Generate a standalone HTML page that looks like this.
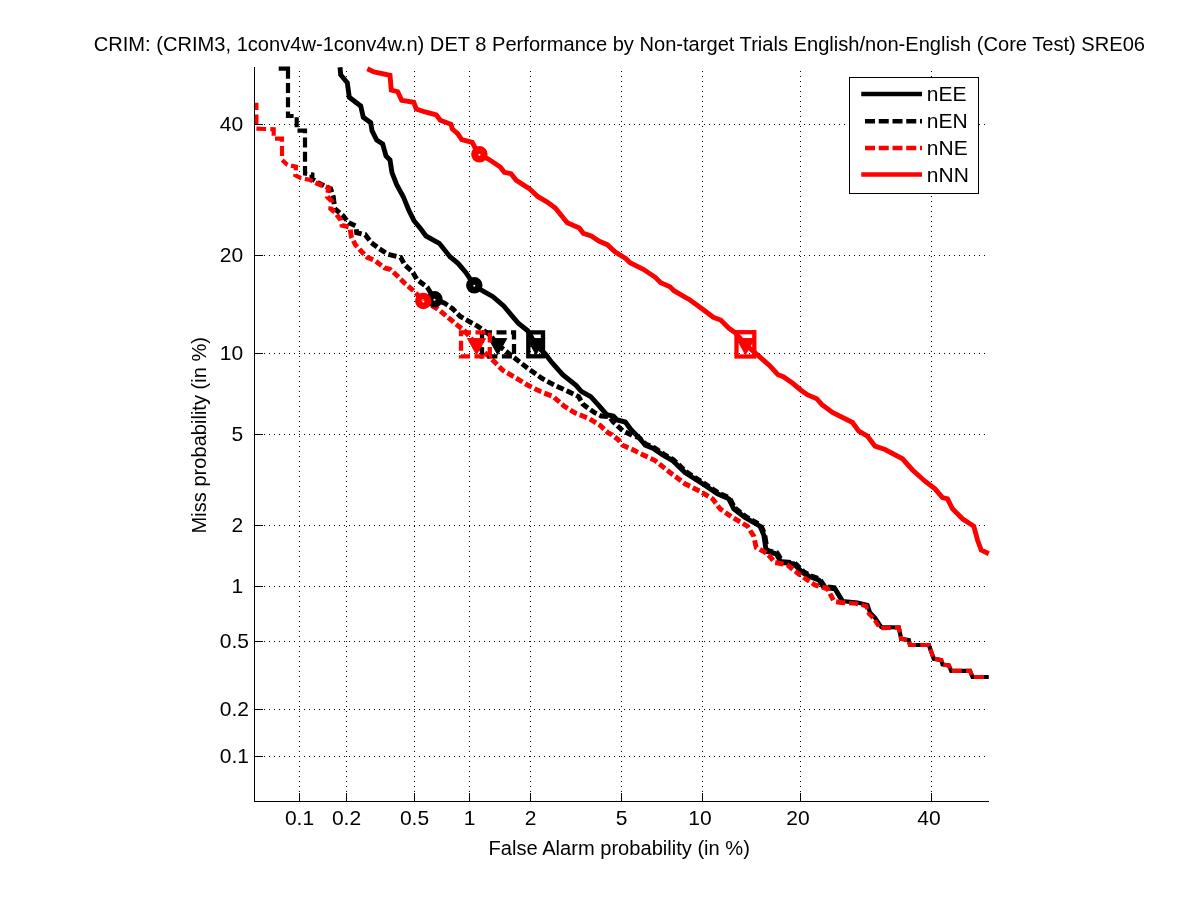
<!DOCTYPE html>
<html><head><meta charset="utf-8"><title>DET plot</title>
<style>
html,body{margin:0;padding:0;background:#fff;}
body{width:1201px;height:900px;overflow:hidden;}
svg{display:block;}
text{font-family:"Liberation Sans",Arial,Helvetica,sans-serif;font-size:20.1px;fill:#000;}
.t{font-size:21px;}
.g{stroke:#000;stroke-width:1;stroke-dasharray:1 4;fill:none;shape-rendering:crispEdges;}
.ax{stroke:#000;stroke-width:1;fill:none;shape-rendering:crispEdges;}
.c{fill:none;stroke-width:4.9;stroke-linejoin:miter;stroke-linecap:butt;}
.n{stroke-width:4.2;}
.k{stroke:#000;} .r{stroke:#f00;}
.d{stroke-dasharray:10 4.5;}
</style></head><body>
<svg width="1201" height="900" viewBox="0 0 1201 900">
<rect x="0" y="0" width="1201" height="900" fill="#fff"/>

<g class="g">
<line x1="299.5" y1="802" x2="299.5" y2="68"/>
<line x1="254" y1="756.5" x2="988" y2="756.5"/>
<line x1="346.5" y1="802" x2="346.5" y2="68"/>
<line x1="254" y1="709.5" x2="988" y2="709.5"/>
<line x1="414.5" y1="802" x2="414.5" y2="68"/>
<line x1="254" y1="641.5" x2="988" y2="641.5"/>
<line x1="469.5" y1="802" x2="469.5" y2="68"/>
<line x1="254" y1="586.5" x2="988" y2="586.5"/>
<line x1="530.5" y1="802" x2="530.5" y2="68"/>
<line x1="254" y1="525.5" x2="988" y2="525.5"/>
<line x1="621.5" y1="802" x2="621.5" y2="68"/>
<line x1="254" y1="434.5" x2="988" y2="434.5"/>
<line x1="702.5" y1="802" x2="702.5" y2="68"/>
<line x1="254" y1="353.5" x2="988" y2="353.5"/>
<line x1="800.5" y1="802" x2="800.5" y2="68"/>
<line x1="254" y1="255.5" x2="988" y2="255.5"/>
<line x1="931.5" y1="802" x2="931.5" y2="68"/>
<line x1="254" y1="124.5" x2="988" y2="124.5"/>
</g>
<polyline class="c k" points="340.0,67.3 340.7,74.7 347.3,82.7 349.3,97.3 360.7,106.0 363.3,117.3 370.7,122.7 372.0,130.7 376.7,140.0 382.7,144.0 386.0,156.0 390.0,160.0 392.0,172.7 396.7,184.7 403.3,196.7 408.7,210.0 414.0,220.7 420.7,228.7 426.0,236.0 439.3,243.3 450.0,256.7 458.0,263.3 466.0,272.7 474.3,285.3 482.3,290.7 493.0,296.7 503.7,306.0 518.3,323.3 527.7,330.7 536.0,345.0 545.3,354.0 552.0,362.7 562.7,374.7 576.0,385.3 581.3,391.3 590.7,396.7 598.7,405.3 606.7,414.7 613.3,416.0 617.3,420.0 625.3,422.0 630.7,429.3 638.7,437.3 645.3,445.3 653.3,448.5 662.7,455.0 672.5,460.5 685.0,472.5 702.5,483.8 717.5,493.8 728.8,498.8 733.8,508.8 745.0,517.5 760.0,526.2 763.8,535.0 766.2,551.2 776.2,553.8 781.2,562.5 793.8,563.8 802.5,572.5 808.8,576.2 818.8,580.0 823.8,587.5 835.0,588.8 842.5,601.2"/>
<polyline class="c k n" points="835.0,588.8 842.5,601.2 857.5,602.5 867.5,605.0 870.0,612.5 875.0,617.5 881.2,627.0 898.8,627.5 901.2,638.8 908.8,640.0 910.0,645.0 928.8,645.0 933.8,658.8 941.2,660.0 942.5,664.5 948.8,665.5 951.2,670.8 970.0,670.8 972.5,677.0 988.8,677.0"/>
<path class="c k n" d="M278.7,68.7 L290.1,68.7 M288.0,68.7 L288.0,78.7 M288.0,83.0 L288.0,93.0 M288.0,97.3 L288.0,107.3 M288.0,111.6 L288.0,116.0 L293.6,116.0 M296.7,117.2 L296.7,127.2 M297.5,130.7 L305.0,130.7 L305.0,133.2 M305.0,137.5 L305.0,147.5 M305.0,151.8 L305.0,161.8 M305.0,166.1 L305.0,173.5 L307.2,173.9"/>
<path class="c k" d="M310.9,174.5 L312.0,174.7 L312.0,178.7 L314.8,180.6 M317.4,182.3 L318.0,182.7 L324.1,185.6 M327.0,187.0 L330.7,188.7 L331.8,192.2 M332.9,195.4 L333.3,196.7 L334.2,204.1 M334.6,208.0 L334.7,208.7 L339.7,212.9 M342.1,214.8 L342.7,215.3 L346.7,220.2 M348.6,222.6 L348.7,222.7 L355.4,225.8 M356.3,229.2 L356.7,232.7 L361.6,233.9 M365.1,234.7 L365.3,234.7 L369.5,240.3 M371.4,242.7 L377.1,247.0 M379.5,248.9 L385.6,252.8 M388.4,254.3 L396.4,256.3 M399.9,257.1 L400.7,257.3 L403.8,263.2 M405.6,265.7 L410.9,270.4 M413.0,272.6 L416.6,279.0 M418.9,281.0 L424.6,285.3 M427.1,287.1 L427.3,287.3 L430.9,293.3 M432.5,296.0 L434.5,299.3 L437.9,300.6 M441.0,301.8 L444.7,303.3 L447.6,305.2 M450.1,307.0 L452.7,308.7 L455.5,311.6 M457.6,313.8 L460.0,316.2 L463.3,318.1 M466.0,319.7 L472.4,323.3 M475.1,324.9 L477.5,326.2 L481.2,328.8 M483.7,330.6 L489.6,334.7 M491.6,337.0 L496.0,342.6 M498.0,344.9 L498.0,345.0 L503.6,349.3 M506.0,351.2 L511.6,355.6 M514.0,357.5 L519.6,361.9 M522.0,363.8 L525.0,366.2 L527.6,368.2 M530.1,370.0 L536.0,374.1 M538.5,375.9 L541.3,378.0 L544.6,379.8 M547.4,381.3 L553.9,384.8 M556.8,386.2 L563.6,389.4 M566.6,390.7 L569.3,392.0 L573.3,394.0 M576.2,395.4 L578.7,396.7 L580.9,400.7 M582.4,403.5 L582.7,404.0 L587.9,408.0 M590.5,409.7 L594.7,412.7 L596.6,413.6 M599.4,415.1 L601.3,416.0 L607.9,416.6 M610.5,418.3 L612.7,421.3 L615.2,423.6 M617.4,425.7 L622.5,430.6 M625.4,432.0 L632.0,435.4 M635.2,436.5 L638.7,437.3 L641.6,440.1 M643.8,442.2 L646.2,444.4 L650.1,445.9 M653.1,447.2 L654.2,447.6 L659.2,451.1 M661.8,452.8 L663.6,454.1 L668.0,456.6 M670.8,458.1 L673.4,459.6 L676.4,462.5 M678.6,464.6 L683.7,469.5 M685.9,471.6 L692.0,475.5 M694.6,477.2 L700.7,481.1 M703.3,482.8 L703.4,482.9 L709.3,486.8 M711.9,488.5 L717.9,492.5 M720.8,493.9 L727.7,497.0 M730.1,498.9 L733.5,505.5 M735.1,508.2 L740.7,512.6 M743.1,514.5 L745.9,516.6 L749.1,518.5 M751.8,520.1 L758.2,523.7 M760.9,525.3 L760.9,525.4 L763.9,532.3 M764.9,535.6 L766.2,544.3 M766.8,548.0 L767.1,550.4 L773.0,551.8 M776.4,552.7 L777.1,552.9 L780.5,558.6 M782.0,561.4 L782.1,561.6 L790.9,562.5 M794.8,563.0 L799.8,568.0 M801.9,570.1 L803.4,571.6 L807.8,574.2 M810.6,575.7 L817.9,578.4 M820.4,580.2 L824.4,586.2 M827.9,587.0 L835.9,587.9"/>
<path class="c r n" d="M256.4,102.7 L256.4,110.1 M256.4,114.4 L256.4,124.4 M256.4,128.7 L266.1,129.0 M270.3,129.1 L273.7,129.2 L273.7,135.7 M275.0,138.7 L282.0,138.7 L282.0,141.7 M282.0,146.0 L282.0,156.0 M282.2,160.1 L287.3,164.7 L287.5,164.8 M291.0,165.6 L296.0,166.7 L295.7,170.3 M295.4,174.3 L295.3,175.3 L300.7,178.0 L301.4,178.1 M304.9,178.9 L310.0,180.0 L312.5,181.3 M849.1,603.1 L856.3,603.7 L858.1,604.1 M861.5,605.0 L866.3,606.2 L867.3,609.2 M868.4,612.4 L868.8,613.7 L873.0,617.9 M874.8,620.3 L878.8,626.3 M881.2,628.2 L890.8,627.8 M894.9,627.6 L898.8,627.5 L899.9,632.5 M900.6,636.0 L901.2,638.8 L906.9,639.7 M909.2,641.7 L910.0,645.0 L915.9,645.0 M920.2,645.0 L928.8,645.0 L929.1,646.1 M930.3,649.2 L933.0,656.5 M934.9,658.9 L941.2,660.0 L941.8,662.0 M943.4,664.7 L948.8,665.5 L950.0,668.1 M951.7,670.8 L961.7,670.8 M966.0,670.8 L970.0,670.8 L971.7,675.0 M974.0,677.0 L984.0,677.0 M988.3,677.0 L988.8,677.0"/>
<path class="c r" d="M315.4,182.7 L316.7,183.3 L322.5,185.6 M325.6,186.8 L328.7,188.0 L327.9,192.9 M327.3,196.6 L327.3,196.7 L331.3,200.7 L331.2,202.5 M330.9,206.5 L330.7,208.7 L334.8,212.2 M336.7,214.6 L340.7,220.0 L340.8,220.5 M341.7,223.9 L342.0,225.3 L348.6,227.0 M350.3,229.6 L351.3,236.7 L351.9,238.0 M353.4,240.8 L355.3,244.7 L357.3,246.9 M359.4,249.1 L362.0,252.0 L364.2,254.3 M366.4,256.4 L367.3,257.3 L373.1,259.7 M375.9,261.2 L381.5,265.6 M384.0,267.4 L384.7,268.0 L390.0,269.3 L391.1,270.3 M393.4,272.3 L396.7,275.3 L398.5,277.1 M400.7,279.3 L404.7,283.3 L405.8,284.2 M408.1,286.2 L412.7,290.0 L413.5,290.8 M415.6,293.0 L420.6,298.0 M422.8,300.1 L423.3,300.7 L429.0,303.9 M431.7,305.5 L437.5,308.8 L438.0,309.2 M440.4,311.1 L445.8,315.7 M448.2,317.6 L452.5,321.2 L453.6,322.2 M456.0,324.1 L461.6,328.5 M464.0,330.4 L465.0,331.2 L468.7,335.7 M470.7,338.0 L475.2,343.5 M477.3,345.7 L482.5,350.5 M484.7,352.6 L489.9,357.4 M492.1,359.6 L497.1,364.6 M499.2,366.7 L502.5,370.0 L504.6,371.3 M507.3,372.9 L513.6,376.6 M516.2,378.2 L522.5,382.0 M525.2,383.6 L527.5,385.0 L531.7,387.1 M534.5,388.6 L540.0,391.3 L541.3,391.8 M544.3,393.1 L551.5,395.9 M554.2,397.5 L559.6,402.1 M561.9,404.1 L564.0,406.0 L567.7,408.3 M570.3,410.0 L574.7,412.7 L576.8,413.5 M579.8,414.8 L586.9,417.7 M589.9,419.0 L596.0,422.9 M598.7,424.5 L600.0,425.3 L604.1,429.1 M606.3,431.2 L608.0,432.7 L612.0,434.7 L612.4,435.1 M614.8,437.0 L618.7,440.0 L620.0,441.8 M621.9,444.2 L622.7,445.3 L628.4,447.7 M631.4,449.0 L632.0,449.3 L638.0,452.4 M640.9,453.8 L642.7,454.7 L647.7,457.0 M650.6,458.4 L655.0,460.5 L656.9,462.1 M659.3,464.0 L664.9,468.4 M667.3,470.3 L670.0,472.5 L672.9,474.7 M675.4,476.5 L681.1,480.8 M683.5,482.7 L685.0,483.8 L690.0,486.2 M692.8,487.7 L699.5,491.0 M702.2,492.6 L708.5,496.3 M711.2,497.9 L712.5,498.8 L715.9,503.2 M717.7,505.7 L720.0,508.8 L722.7,510.7 M725.3,512.4 L731.1,516.6 M733.8,518.2 L740.1,521.9 M742.8,523.5 L747.5,526.2 L748.5,527.8 M750.1,530.5 L753.8,536.2 L753.9,536.7 M754.6,540.3 L756.2,547.5 L757.0,547.9 M759.8,549.4 L766.2,553.0 M768.5,555.0 L773.2,560.3 M775.2,562.5 L783.6,564.2 M787.2,564.9 L787.5,565.0 L792.8,569.3 M795.2,571.2 L800.0,575.0 L800.8,575.6 M803.4,577.3 L809.4,581.3 M812.0,583.0 L815.0,585.0 L818.8,586.2 M822.2,587.1 L827.5,588.8 L828.5,590.8 M830.0,593.6 L833.4,600.2 M836.1,601.8 L841.3,602.5 L845.1,602.8"/>
<polyline class="c r" points="367.3,68.7 374.0,72.0 390.0,75.3 391.3,90.0 397.7,91.7 401.7,100.3 413.7,102.3 416.3,109.0 424.3,111.7 436.3,115.0 440.3,120.3 451.0,124.3 452.3,129.0 457.7,133.7 461.7,139.7 472.3,142.3 475.0,147.7 479.4,154.3 488.3,159.0 500.3,167.0 504.3,172.3 511.0,173.7 516.3,180.3 529.7,189.0 538.0,196.7 547.3,202.0 555.3,208.0 567.3,222.7 579.3,228.0 583.3,233.3 591.3,236.0 599.3,241.3 607.3,244.7 615.3,252.0 626.0,258.7 630.0,262.7 643.3,269.3 655.3,277.3 660.7,282.7 670.0,286.7 674.0,290.7 682.0,295.3 690.0,300.0 702.0,308.7 713.3,317.3 720.7,320.0 728.7,328.0 735.3,332.7 745.5,344.5 758.0,355.3 770.0,366.0 778.0,374.7 783.3,376.7 792.7,383.3 800.7,390.0 807.3,394.7 816.7,398.7 822.0,404.7 832.5,412.5 852.5,422.5 858.8,431.2 867.5,436.2 875.0,446.2 885.0,449.5 902.5,458.8 912.5,470.0 925.0,481.2 935.0,488.8 942.5,497.5 947.5,498.8 952.5,508.8 962.5,518.8 973.8,526.2 977.5,540.0 981.2,550.0 988.8,553.8"/>
<circle cx="474.3" cy="285.3" r="5" fill="none" stroke="#000" stroke-width="6.5"/><circle cx="474.3" cy="285.8" r="1.05" fill="#fff"/>
<rect x="528.3" y="332.4" width="14.7" height="23.9" fill="none" stroke="#000" stroke-width="4.3"/>
<polygon points="527.0,338.6 545.0,338.6 536.0,354.6" fill="#000" stroke="#000" stroke-width="1"/>
<circle cx="434.5" cy="299.3" r="5" fill="none" stroke="#000" stroke-width="6.5"/><circle cx="434.5" cy="299.8" r="1.05" fill="#fff"/>
<rect x="482" y="332.4" width="32.0" height="23.9" fill="none" stroke="#000" stroke-width="4.3" stroke-dasharray="10 4.5"/>
<polygon points="488.7,338.6 506.7,338.6 497.7,354.6" fill="#000" stroke="#000" stroke-width="1"/>
<circle cx="423.3" cy="301" r="5" fill="none" stroke="#f00" stroke-width="6.5"/><circle cx="423.3" cy="301.5" r="1.05" fill="#fff"/>
<rect x="461" y="332.4" width="28.8" height="23.9" fill="none" stroke="#f00" stroke-width="4.3" stroke-dasharray="10 4.5"/>
<polygon points="467.5,338.6 485.5,338.6 476.5,354.6" fill="#f00" stroke="#f00" stroke-width="1"/>
<circle cx="479.4" cy="154.3" r="5" fill="none" stroke="#f00" stroke-width="6.5"/><circle cx="479.4" cy="154.8" r="1.05" fill="#fff"/>
<rect x="736.5" y="332.2" width="17.8" height="24.3" fill="none" stroke="#f00" stroke-width="4.3"/>
<polygon points="736.5,338.6 754.5,338.6 745.5,354.6" fill="#f00" stroke="#f00" stroke-width="1"/>
<g class="ax"><line x1="254.5" y1="67.0" x2="254.5" y2="802.1"/><line x1="253.9" y1="801.5" x2="988.8" y2="801.5"/>
<line x1="299.5" y1="801.5" x2="299.5" y2="793.0"/>
<line x1="254.5" y1="756.5" x2="263.0" y2="756.5"/>
<line x1="346.5" y1="801.5" x2="346.5" y2="793.0"/>
<line x1="254.5" y1="709.5" x2="263.0" y2="709.5"/>
<line x1="414.5" y1="801.5" x2="414.5" y2="793.0"/>
<line x1="254.5" y1="641.5" x2="263.0" y2="641.5"/>
<line x1="469.5" y1="801.5" x2="469.5" y2="793.0"/>
<line x1="254.5" y1="586.5" x2="263.0" y2="586.5"/>
<line x1="530.5" y1="801.5" x2="530.5" y2="793.0"/>
<line x1="254.5" y1="525.5" x2="263.0" y2="525.5"/>
<line x1="621.5" y1="801.5" x2="621.5" y2="793.0"/>
<line x1="254.5" y1="434.5" x2="263.0" y2="434.5"/>
<line x1="702.5" y1="801.5" x2="702.5" y2="793.0"/>
<line x1="254.5" y1="353.5" x2="263.0" y2="353.5"/>
<line x1="800.5" y1="801.5" x2="800.5" y2="793.0"/>
<line x1="254.5" y1="255.5" x2="263.0" y2="255.5"/>
<line x1="931.5" y1="801.5" x2="931.5" y2="793.0"/>
<line x1="254.5" y1="124.5" x2="263.0" y2="124.5"/>
</g>
<text class="t" x="299.5" y="825" text-anchor="middle">0.1</text>
<text class="t" x="249" y="763.3" text-anchor="end">0.1</text>
<text class="t" x="346.5" y="825" text-anchor="middle">0.2</text>
<text class="t" x="249" y="716.3" text-anchor="end">0.2</text>
<text class="t" x="414.5" y="825" text-anchor="middle">0.5</text>
<text class="t" x="249" y="648.3" text-anchor="end">0.5</text>
<text class="t" x="469.5" y="825" text-anchor="middle">1</text>
<text class="t" x="243.2" y="593.3" text-anchor="end">1</text>
<text class="t" x="530.5" y="825" text-anchor="middle">2</text>
<text class="t" x="243.2" y="532.3" text-anchor="end">2</text>
<text class="t" x="621.5" y="825" text-anchor="middle">5</text>
<text class="t" x="243.2" y="441.3" text-anchor="end">5</text>
<text class="t" x="699.9" y="825" text-anchor="middle">10</text>
<text class="t" x="243.2" y="360.3" text-anchor="end">10</text>
<text class="t" x="797.9" y="825" text-anchor="middle">20</text>
<text class="t" x="243.2" y="262.3" text-anchor="end">20</text>
<text class="t" x="928.9" y="825" text-anchor="middle">40</text>
<text class="t" x="243.2" y="131.3" text-anchor="end">40</text>
<text x="619.4" y="50.8" text-anchor="middle">CRIM: (CRIM3, 1conv4w-1conv4w.n) DET 8 Performance by Non-target Trials English/non-English (Core Test) SRE06</text>
<text x="619.25" y="855" text-anchor="middle">False Alarm probability (in %)</text>
<text transform="translate(205.5,435.2) rotate(-90)" text-anchor="middle">Miss probability (in %)</text>
<rect x="849.5" y="77.5" width="129" height="115.8" fill="#fff" stroke="#000" stroke-width="1.2" shape-rendering="crispEdges"/>
<line x1="861.25" y1="94" x2="922" y2="94" stroke="#000" stroke-width="4.3"/>
<text class="t" x="926.8" y="101.0">nEE</text>
<line x1="865" y1="121.25" x2="922" y2="121.25" stroke="#000" stroke-width="4.3" stroke-dasharray="10 3.75"/>
<text class="t" x="926.8" y="128.2">nEN</text>
<line x1="865" y1="148" x2="922" y2="148" stroke="#f00" stroke-width="4.3" stroke-dasharray="10 3.75"/>
<text class="t" x="926.8" y="155.0">nNE</text>
<line x1="861.25" y1="174.5" x2="922" y2="174.5" stroke="#f00" stroke-width="4.3"/>
<text class="t" x="926.8" y="181.5">nNN</text>
</svg></body></html>
